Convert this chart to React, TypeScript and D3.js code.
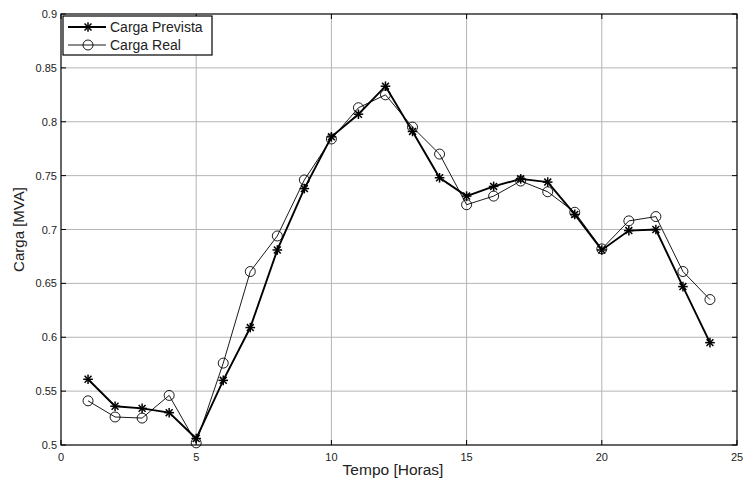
import React from "react";
import * as d3 from "d3";

const hours = [1,2,3,4,5,6,7,8,9,10,11,12,13,14,15,16,17,18,19,20,21,22,23,24];
const prevista = [0.561,0.536,0.534,0.530,0.506,0.560,0.609,0.681,0.738,0.786,0.807,0.833,0.791,0.748,0.731,0.740,0.747,0.744,0.714,0.681,0.699,0.700,0.647,0.595];
const real = [0.541,0.526,0.525,0.546,0.502,0.576,0.661,0.694,0.746,0.784,0.813,0.825,0.795,0.770,0.723,0.731,0.745,0.735,0.716,0.682,0.708,0.712,0.661,0.635];
const xTicks = [0,5,10,15,20,25];
const yTicks = [0.5,0.55,0.6,0.65,0.7,0.75,0.8,0.85,0.9];
const seriesNames = ["Carga Prevista","Carga Real"];
const xLabel = "Tempo [Horas]";
const yLabel = "Carga [MVA]";

const W = 743, H = 484;
const L = 61, R = 737, T = 14, B = 445;
const font = "'Liberation Sans', Arial, sans-serif";

function Star({x, y, s = 4.8}: {x:number; y:number; s?:number}) {
  const d = s * 0.72;
  return (
    <g stroke="#000" strokeWidth={1.5}>
      <line x1={x - s} y1={y} x2={x + s} y2={y} />
      <line x1={x} y1={y - s} x2={x} y2={y + s} />
      <line x1={x - d} y1={y - d} x2={x + d} y2={y + d} />
      <line x1={x - d} y1={y + d} x2={x + d} y2={y - d} />
    </g>
  );
}

export default function App() {
  const x = d3.scaleLinear().domain([0, 25]).range([L, R]);
  const y = d3.scaleLinear().domain([0.5, 0.9]).range([B, T]);
  const line = d3.line<number>().x((_, i) => x(hours[i])).y((v) => y(v));
  const fmt = (v: number) => d3.format("")(+v.toFixed(2));
  const grid = "#b4b4b4";
  const tk = 5;
  return (
    <svg width={W} height={H} style={{ position: "absolute", left: 0, top: 0, background: "#fff" }} fontFamily={font}>
      <rect x={0} y={0} width={W} height={H} fill="#fff" />
      {xTicks.slice(1, -1).map((t) => (
        <line key={"gx" + t} x1={x(t)} x2={x(t)} y1={T} y2={B} stroke={grid} strokeWidth={1} />
      ))}
      {yTicks.slice(1, -1).map((t) => (
        <line key={"gy" + t} x1={L} x2={R} y1={y(t)} y2={y(t)} stroke={grid} strokeWidth={1} />
      ))}
      {xTicks.map((t) => (
        <g key={"tx" + t}>
          <line x1={x(t)} x2={x(t)} y1={B} y2={B - tk} stroke="#000" />
          <line x1={x(t)} x2={x(t)} y1={T} y2={T + tk} stroke="#000" />
          <text x={x(t)} y={B + 16} textAnchor="middle" fontSize={11} fill="#222">{t}</text>
        </g>
      ))}
      {yTicks.map((t) => (
        <g key={"ty" + t}>
          <line x1={L} x2={L + tk} y1={y(t)} y2={y(t)} stroke="#000" />
          <line x1={R} x2={R - tk} y1={y(t)} y2={y(t)} stroke="#000" />
          <text x={L - 4} y={y(t) + 4} textAnchor="end" fontSize={11} fill="#222">{fmt(t)}</text>
        </g>
      ))}
      <rect x={L} y={T} width={R - L} height={B - T} fill="none" stroke="#000" strokeWidth={1.2} />
      <path d={line(real) || ""} fill="none" stroke="#000" strokeWidth={0.9} />
      {real.map((v, i) => (
        <circle key={"c" + i} cx={x(hours[i])} cy={y(v)} r={5} fill="none" stroke="#000" strokeWidth={0.9} />
      ))}
      <path d={line(prevista) || ""} fill="none" stroke="#000" strokeWidth={1.9} />
      {prevista.map((v, i) => (
        <Star key={"s" + i} x={x(hours[i])} y={y(v)} />
      ))}
      <text x={393} y={475} textAnchor="middle" fontSize={15.5} fill="#222">{xLabel}</text>
      <text transform={`translate(24,${(T + B) / 2}) rotate(-90)`} textAnchor="middle" fontSize={15} fill="#222">{yLabel}</text>
      <g>
        <rect x={63} y={16} width={149} height={39} fill="#fff" stroke="#000" strokeWidth={1.2} />
        <line x1={68} x2={106} y1={27} y2={27} stroke="#000" strokeWidth={1.9} />
        <Star x={88} y={27} />
        <text x={110} y={32} fontSize={14} fill="#222">{seriesNames[0]}</text>
        <line x1={68} x2={106} y1={45} y2={45} stroke="#000" strokeWidth={0.9} />
        <circle cx={88} cy={45} r={5} fill="none" stroke="#000" strokeWidth={0.9} />
        <text x={110} y={50} fontSize={14} fill="#222">{seriesNames[1]}</text>
      </g>
    </svg>
  );
}
